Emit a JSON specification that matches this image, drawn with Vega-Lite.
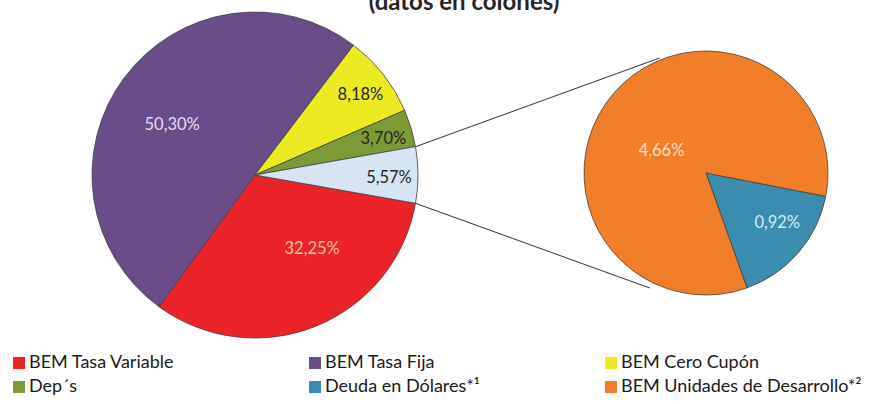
{
  "$schema": "https://vega.github.io/schema/vega-lite/v6.json",
  "width": 875,
  "height": 404,
  "autosize": {"type": "fit", "contains": "padding"},
  "padding": 0,
  "background": "white",
  "config": {"view": {"stroke": null}, "font": "Lato"},
  "params": [
    {"name": "cx1", "value": 255},
    {"name": "cy1", "value": 175},
    {"name": "r1", "value": 163},
    {"name": "cx2", "value": 706},
    {"name": "cy2", "value": 173},
    {"name": "r2", "value": 122}
  ],
  "layer": [
    {
      "data": {"values": [{"t": "(datos en colones)"}]},
      "mark": {"type": "text", "clip": true, "x": {"expr": "464"}, "y": {"expr": "10"}, "baseline": "alphabetic", "align": "center", "fontSize": 24, "fontWeight": "bold", "color": "#262626"},
      "encoding": {"text": {"field": "t"}}
    },
    {
      "data": {"values": [{"line": "superior"}]},
      "mark": {"type": "rule", "color": "#333333", "strokeWidth": 1},
      "encoding": {
        "x": {"value": {"expr": "cx1 + r1*sin(80*PI/180)"}},
        "y": {"value": {"expr": "cy1 - r1*cos(80*PI/180)"}},
        "x2": {"value": {"expr": "cx2 + 124*sin(338*PI/180)"}},
        "y2": {"value": {"expr": "cy2 - 124*cos(338*PI/180)"}}
      }
    },
    {
      "data": {"values": [{"line": "inferior"}]},
      "mark": {"type": "rule", "color": "#333333", "strokeWidth": 1},
      "encoding": {
        "x": {"value": {"expr": "cx1 + r1*sin(100*PI/180)"}},
        "y": {"value": {"expr": "cy1 - r1*cos(100*PI/180)"}},
        "x2": {"value": {"expr": "cx2 + 128*sin(206*PI/180)"}},
        "y2": {"value": {"expr": "cy2 - 128*cos(206*PI/180)"}}
      }
    },
    {
      "data": {"values": [
        {"cat": "BEM Tasa Variable", "pct": 32.25, "label": "32,25%", "ord": 1},
        {"cat": "BEM Tasa Fija", "pct": 50.30, "label": "50,30%", "ord": 2},
        {"cat": "BEM Cero Cupón", "pct": 8.18, "label": "8,18%", "ord": 3},
        {"cat": "Dep´s", "pct": 3.70, "label": "3,70%", "ord": 4},
        {"cat": "Otros", "pct": 5.57, "label": "5,57%", "ord": 5}
      ]},
      "encoding": {
        "theta": {"field": "pct", "type": "quantitative", "stack": true, "scale": {"range": [1.7453, 8.0285]}},
        "order": {"field": "ord", "type": "quantitative"}
      },
      "layer": [
        {
          "mark": {"type": "arc", "x": {"expr": "cx1"}, "y": {"expr": "cy1"}, "radius": 163, "stroke": "#404040", "strokeWidth": 0.8},
          "encoding": {
            "color": {
              "field": "cat", "type": "nominal",
              "scale": {
                "domain": ["BEM Tasa Variable", "BEM Tasa Fija", "BEM Cero Cupón", "Dep´s", "Deuda en Dólares*¹", "BEM Unidades de Desarrollo*²", "Otros"],
                "range": ["#EC2327", "#6A4C8A", "#EEEA22", "#7C9A35", "#3A8DAE", "#F27E2A", "#D5E5F3"]
              },
              "legend": {
                "values": ["BEM Tasa Variable", "BEM Tasa Fija", "BEM Cero Cupón", "Dep´s", "Deuda en Dólares*¹", "BEM Unidades de Desarrollo*²"],
                "orient": "none", "legendX": 10, "legendY": 354, "direction": "horizontal", "columns": 3, "gridAlign": "all",
                "title": null, "symbolType": "square", "symbolSize": 144, "symbolStrokeWidth": 0,
                "labelFont": "Lato", "labelFontSize": 18, "labelColor": "#1a1a1a", "labelOffset": 1,
                "rowPadding": 6, "columnPadding": 36, "labelLimit": 400
              }
            }
          }
        },
        {
          "mark": {"type": "text", "x": {"expr": "cx1"}, "y": {"expr": "cy1"}, "radius": 97, "dx": -5, "dy": 8, "fontSize": 16.5, "color": "#E4DCF0"},
          "encoding": {
            "detail": {"field": "cat"},
            "text": {"condition": {"test": "datum.cat == 'BEM Tasa Fija'", "field": "label"}, "value": ""}
          }
        },
        {
          "mark": {"type": "text", "x": {"expr": "cx1"}, "y": {"expr": "cy1"}, "radius": 94, "dx": 22, "dy": -13, "fontSize": 16.5, "color": "#F8C3A6"},
          "encoding": {
            "detail": {"field": "cat"},
            "text": {"condition": {"test": "datum.cat == 'BEM Tasa Variable'", "field": "label"}, "value": ""}
          }
        },
        {
          "mark": {"type": "text", "x": {"expr": "cx1"}, "y": {"expr": "cy1"}, "radius": 134, "dy": 3, "fontSize": 16.5, "color": "#262626"},
          "encoding": {
            "detail": {"field": "cat"},
            "text": {"condition": {"test": "datum.pct < 20", "field": "label"}, "value": ""}
          }
        }
      ]
    },
    {
      "data": {"values": [
        {"cat": "Deuda en Dólares*¹", "pct": 0.92, "label": "0,92%", "ord": 1},
        {"cat": "BEM Unidades de Desarrollo*²", "pct": 4.66, "label": "4,66%", "ord": 2}
      ]},
      "encoding": {
        "theta": {"field": "pct", "type": "quantitative", "stack": true, "scale": {"range": [1.7628, 8.046]}},
        "order": {"field": "ord", "type": "quantitative"}
      },
      "layer": [
        {
          "mark": {"type": "arc", "x": {"expr": "cx2"}, "y": {"expr": "cy2"}, "radius": 122, "stroke": "#404040", "strokeWidth": 0.8},
          "encoding": {"color": {"field": "cat", "type": "nominal"}}
        },
        {
          "mark": {"type": "text", "x": {"expr": "cx2"}, "y": {"expr": "cy2"}, "fontSize": 16.5, "radius": 52, "dx": -5, "dy": 12, "color": "#FBE0C8"},
          "encoding": {
            "detail": {"field": "cat"},
            "text": {"condition": {"test": "datum.pct > 2", "field": "label"}, "value": ""}
          }
        },
        {
          "mark": {"type": "text", "x": {"expr": "cx2"}, "y": {"expr": "cy2"}, "fontSize": 16.5, "radius": 86, "dx": 6, "dy": -6, "color": "#D5ECF4"},
          "encoding": {
            "detail": {"field": "cat"},
            "text": {"condition": {"test": "datum.pct < 2", "field": "label"}, "value": ""}
          }
        }
      ]
    }
  ],
  "resolve": {"scale": {"theta": "independent"}}
}
